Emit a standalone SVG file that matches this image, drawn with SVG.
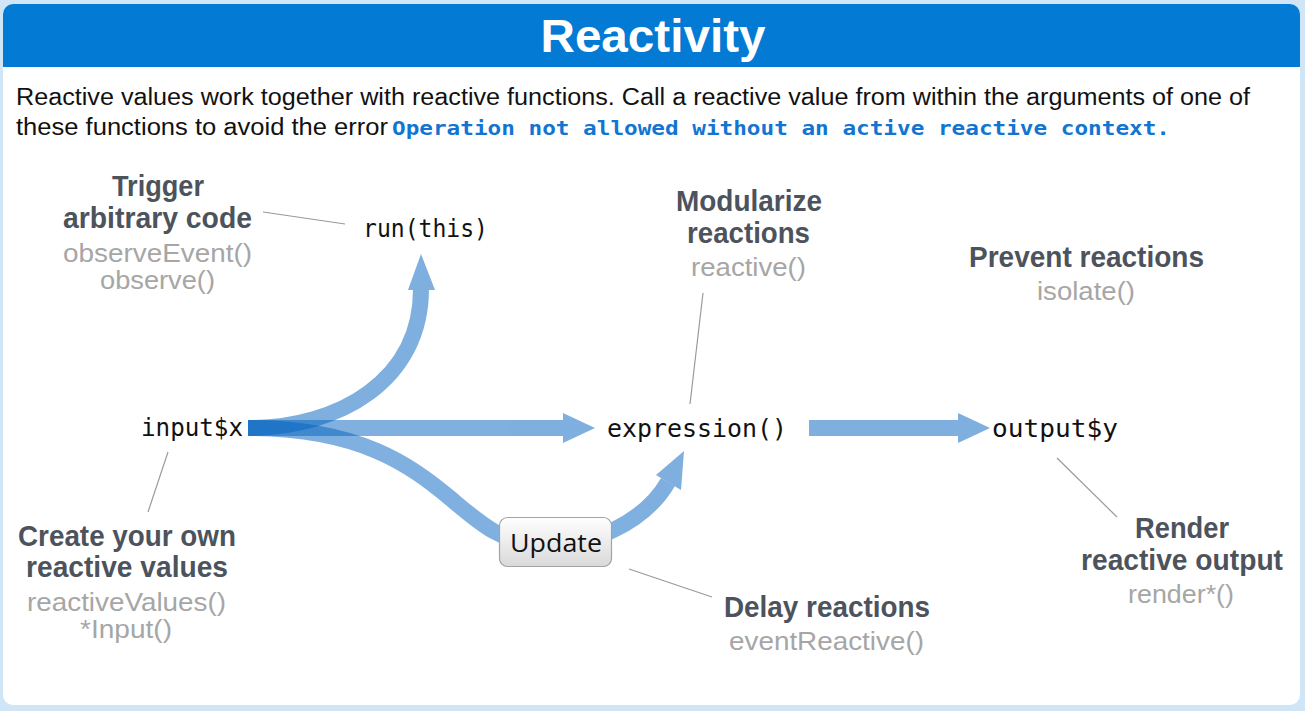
<svg xmlns="http://www.w3.org/2000/svg" width="1305" height="711" viewBox="0 0 1305 711">
<defs>
<style>
.hd{font-family:"Liberation Sans",Arial,sans-serif;font-weight:bold;font-size:30px;fill:#4d535c;text-anchor:middle}
.fn{font-family:"Liberation Sans",Arial,sans-serif;font-size:26px;fill:#a6a6a6;text-anchor:middle}
.code{font-family:"DejaVu Sans Mono",monospace;font-size:24px;fill:#111}
.lead{stroke:#9a9a9a;stroke-width:1.2;fill:none}
.strand{opacity:0.5}
.shaft{fill:none;stroke:#0161bf;stroke-width:16}
.head{fill:#0161bf}
</style>
<linearGradient id="btn" x1="0" y1="0" x2="0" y2="1">
<stop offset="0" stop-color="#ffffff"/>
<stop offset="1" stop-color="#d9d9d9"/>
</linearGradient>
</defs>
<rect x="0" y="0" width="1305" height="711" fill="#d0e6f7"/>
<rect x="3" y="4" width="1297" height="701" rx="10" fill="#ffffff"/>
<g id="header">
<path d="M3 67 V14 A10 10 0 0 1 13 4 H1290 A10 10 0 0 1 1300 14 V67 Z" fill="#037ad4"/>
<text x="653" y="52" font-family="Liberation Sans,Arial,sans-serif" font-weight="bold" font-size="46" fill="#fff" text-anchor="middle" textLength="225" lengthAdjust="spacingAndGlyphs">Reactivity</text>
</g>
<g id="intro" font-family="Liberation Sans,Arial,sans-serif" font-size="23" fill="#111">
<text x="16" y="105" textLength="1234" lengthAdjust="spacingAndGlyphs">Reactive values work together with reactive functions. Call a reactive value from within the arguments of one of</text>
<text x="16" y="135" textLength="372" lengthAdjust="spacingAndGlyphs">these functions to avoid the error</text>
<text x="392" y="135" font-family="DejaVu Sans Mono,monospace" font-weight="bold" font-size="20" fill="#1275d2" textLength="778" lengthAdjust="spacingAndGlyphs">Operation not allowed without an active reactive context.</text>
</g>
<g id="connectors">
<g class="strand"><path class="shaft" d="M248 428 H566"/><polygon class="head" points="563,413 595,428 563,443"/></g>
<g class="strand"><path class="shaft" d="M248 428 C340 428 421 380 421 289"/><polygon class="head" points="408,290 421,254 435,290"/></g>
<g class="strand"><path class="shaft" d="M248 428 C360 428 410 465 450 498 C480 523 500 542 540 545 C590 548 645 522 668 482"/><polygon class="head" points="656,475 684,451 681,490"/></g>
<g class="strand"><path class="shaft" d="M809 428 H961"/><polygon class="head" points="958,413 990,428 958,443"/></g>
<line class="lead" x1="263" y1="212" x2="345" y2="224"/>
<line class="lead" x1="703" y1="293" x2="690" y2="404"/>
<line class="lead" x1="168" y1="452" x2="148" y2="512"/>
<line class="lead" x1="629" y1="569" x2="712" y2="597"/>
<line class="lead" x1="1057" y1="458" x2="1117" y2="517"/>
</g>
<g id="input"><text class="code" x="141" y="436" textLength="102" lengthAdjust="spacingAndGlyphs">input$x</text></g>
<g id="run"><text class="code" x="363" y="237" textLength="125" lengthAdjust="spacingAndGlyphs">run(this)</text></g>
<g id="expression"><text class="code" x="607" y="437" textLength="180" lengthAdjust="spacingAndGlyphs">expression()</text></g>
<g id="output"><text class="code" x="992" y="437" textLength="126" lengthAdjust="spacingAndGlyphs">output$y</text></g>
<g id="update">
<rect x="499.5" y="517.5" width="112" height="49" rx="8" fill="url(#btn)" stroke="#a3a3a3" stroke-width="1.2"/>
<text x="556" y="552" font-family="Open Sans,Liberation Sans,sans-serif" font-size="25" fill="#111" text-anchor="middle" textLength="92" lengthAdjust="spacingAndGlyphs">Update</text>
</g>
<g id="trigger">
<text class="hd" x="158" y="196" textLength="92" lengthAdjust="spacingAndGlyphs">Trigger</text>
<text class="hd" x="157.5" y="228" textLength="189" lengthAdjust="spacingAndGlyphs">arbitrary code</text>
<text class="fn" x="157.5" y="262" textLength="189" lengthAdjust="spacingAndGlyphs">observeEvent()</text>
<text class="fn" x="157.5" y="289" textLength="115" lengthAdjust="spacingAndGlyphs">observe()</text>
</g>
<g id="modularize">
<text class="hd" x="749" y="211" textLength="146" lengthAdjust="spacingAndGlyphs">Modularize</text>
<text class="hd" x="748.5" y="243" textLength="123" lengthAdjust="spacingAndGlyphs">reactions</text>
<text class="fn" x="748.5" y="276" textLength="115" lengthAdjust="spacingAndGlyphs">reactive()</text>
</g>
<g id="prevent">
<text class="hd" x="1086.5" y="267" textLength="235" lengthAdjust="spacingAndGlyphs">Prevent reactions</text>
<text class="fn" x="1086" y="300" textLength="98" lengthAdjust="spacingAndGlyphs">isolate()</text>
</g>
<g id="create">
<text class="hd" x="127" y="546" textLength="218" lengthAdjust="spacingAndGlyphs">Create your own</text>
<text class="hd" x="127" y="577" textLength="202" lengthAdjust="spacingAndGlyphs">reactive values</text>
<text class="fn" x="126.5" y="611" textLength="199" lengthAdjust="spacingAndGlyphs">reactiveValues()</text>
<text class="fn" x="126" y="638" textLength="92" lengthAdjust="spacingAndGlyphs">*Input()</text>
</g>
<g id="delay">
<text class="hd" x="827" y="617" textLength="206" lengthAdjust="spacingAndGlyphs">Delay reactions</text>
<text class="fn" x="826.5" y="650" textLength="195" lengthAdjust="spacingAndGlyphs">eventReactive()</text>
</g>
<g id="render">
<text class="hd" x="1182" y="538" textLength="94" lengthAdjust="spacingAndGlyphs">Render</text>
<text class="hd" x="1182" y="570" textLength="202" lengthAdjust="spacingAndGlyphs">reactive output</text>
<text class="fn" x="1181" y="603" textLength="106" lengthAdjust="spacingAndGlyphs">render*()</text>
</g>
</svg>
